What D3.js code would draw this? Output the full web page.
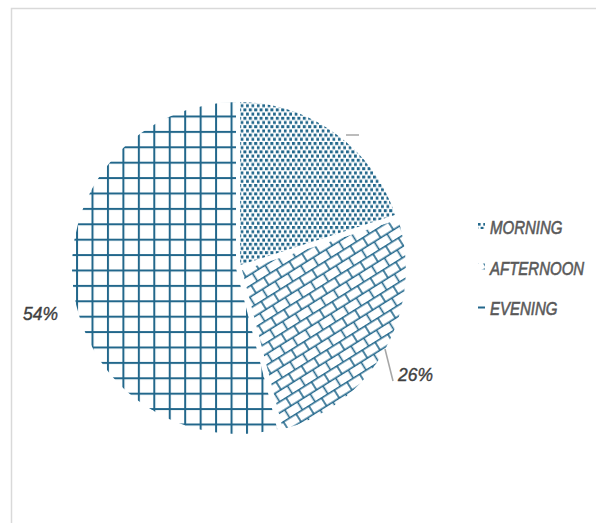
<!DOCTYPE html>
<html><head><meta charset="utf-8">
<script src="https://cdn.jsdelivr.net/npm/d3@7"></script>
<style>
html,body{margin:0;padding:0;background:#fff;}
svg{display:block;}
</style></head>
<body>
<svg id="chart" width="596" height="523"></svg>
<script>
const categories = ["MORNING", "AFTERNOON", "EVENING"];
const values = [20, 26, 54];
const labelTexts = ["", "26%", "54%"];
const patternIds = ["pDots", "pBrick", "pGrid"];

const color = "#22678b";
const svg = d3.select("#chart");
const W = 596, H = 523;

svg.append("rect").attr("width", W).attr("height", H).attr("fill", "#fff");
// chart area border (partially cropped)
svg.append("path").attr("d", "M11.5,600 L11.5,8.5 L700,8.5")
  .attr("fill", "none").attr("stroke", "#d9d9d9").attr("stroke-width", 1.5);

const defs = svg.append("defs");
// dots
const pd = defs.append("pattern").attr("id", "pDots").attr("patternUnits", "userSpaceOnUse")
  .attr("width", 5.4).attr("height", 8.4);
pd.append("rect").attr("x", 0).attr("y", 0).attr("width", 3).attr("height", 3).attr("fill", color);
pd.append("rect").attr("x", 2.7).attr("y", 4.2).attr("width", 3).attr("height", 3).attr("fill", color);
// diagonal brick
const pb = defs.append("pattern").attr("id", "pBrick").attr("patternUnits", "userSpaceOnUse")
  .attr("width", 15).attr("height", 19).attr("patternTransform", "rotate(-32)");
pb.append("line").attr("x1", 0).attr("y1", 0.75).attr("x2", 15).attr("y2", 0.75).attr("stroke", color).attr("stroke-width", 1.6);
pb.append("line").attr("x1", 0).attr("y1", 10.25).attr("x2", 15).attr("y2", 10.25).attr("stroke", color).attr("stroke-width", 1.6);
pb.append("line").attr("x1", 1).attr("y1", 0).attr("x2", 1).attr("y2", 10).attr("stroke", color).attr("stroke-width", 1.6);
pb.append("line").attr("x1", 8.5).attr("y1", 10).attr("x2", 8.5).attr("y2", 19).attr("stroke", color).attr("stroke-width", 1.6);
// grid
const pg = defs.append("pattern").attr("id", "pGrid").attr("patternUnits", "userSpaceOnUse")
  .attr("x", 8).attr("y", 1.5).attr("width", 15.45).attr("height", 15.4);
pg.append("rect").attr("x", 0).attr("y", 0).attr("width", 2).attr("height", 15.4).attr("fill", color);
pg.append("rect").attr("x", 0).attr("y", 0).attr("width", 15.45).attr("height", 2).attr("fill", color);

const cx = 238, cy = 268, R = 168;
const pie = d3.pie().sort(null).value(d => d)(values);
const arc = d3.arc().innerRadius(0).outerRadius(R);
const g = svg.append("g").attr("transform", `translate(${cx},${cy})`);

g.selectAll("path.slice").data(pie).join("path").attr("class", "slice")
  .attr("d", arc)
  .attr("transform", (d, i) => {
    if (i !== 1) return null;
    const a = (d.startAngle + d.endAngle) / 2;
    return `translate(${2 * Math.sin(a)},${-2 * Math.cos(a)})`;
  })
  .attr("fill", (d, i) => `url(#${patternIds[i]})`)
  .attr("stroke", "#fff").attr("stroke-width", 4).attr("stroke-linejoin", "round");

const font = "'Liberation Sans', Arial, sans-serif";

// leader lines
const leaders = [
  [[108, -133], [121, -133]],
  [[147, 81], [155, 113]],
  null
];
g.selectAll("path.leader").data(leaders.filter(d => d)).join("path")
  .attr("d", d => d3.line()(d)).attr("fill", "none").attr("stroke", "#a6a6a6").attr("stroke-width", 1.5);

const labelPos = [null, [160, 113], [-215, 52]];
labelTexts.forEach((t, i) => {
  if (!t) return;
  g.append("text")
    .attr("transform", `translate(${labelPos[i][0]},${labelPos[i][1]}) scale(0.92,1)`)
    .attr("font-family", font).attr("font-style", "italic").attr("font-size", 19)
    .attr("fill", "#404040").attr("stroke", "#404040").attr("stroke-width", 0.4).text(t);
});

// legend
const leg = svg.append("g");
const legY = d3.scalePoint().domain(categories).range([227, 308]);
categories.forEach((c, i) => {
  const y = legY(c);
  if (i === 2) {
    leg.append("rect").attr("x", 478).attr("y", y - 1.5).attr("width", 7).attr("height", 2).attr("fill", color);
  } else {
    leg.append("rect").attr("x", 478).attr("y", y - 4).attr("width", 7).attr("height", 6)
      .attr("fill", `url(#${patternIds[i]})`);
  }
  leg.append("text")
    .attr("transform", `translate(490,${y + 7}) scale(0.79,1)`)
    .attr("font-family", font).attr("font-style", "italic").attr("font-size", 19)
    .attr("fill", "#595959").attr("stroke", "#595959").attr("stroke-width", 0.6).text(c);
});
</script>
</body></html>
